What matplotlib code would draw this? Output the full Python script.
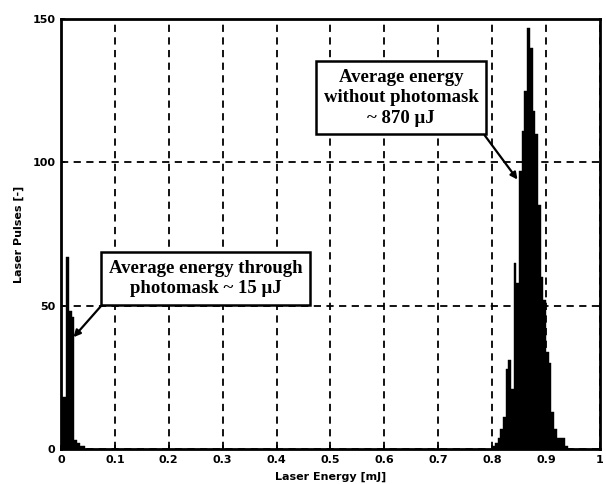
import matplotlib
matplotlib.use("Agg")
import matplotlib.pyplot as plt

# Histogram data (bin left edges in mJ, counts of laser pulses)
bin_width = 0.005
masked_bins = [0.000, 0.005, 0.010, 0.015, 0.020, 0.025, 0.030, 0.035, 0.040]
masked_counts = [18, 18, 67, 48, 46, 3, 2, 1, 1]

open_bins = [0.800, 0.805, 0.810, 0.815, 0.820, 0.825, 0.830, 0.835, 0.840,
             0.845, 0.850, 0.855, 0.860, 0.865, 0.870, 0.875, 0.880, 0.885,
             0.890, 0.895, 0.900, 0.905, 0.910, 0.915, 0.920, 0.925, 0.930,
             0.935]
open_counts = [1, 2, 4, 7, 11, 28, 31, 21, 65, 58, 97, 111, 125, 147, 140,
               118, 110, 85, 60, 52, 34, 30, 13, 7, 4, 4, 4, 1]

x_ticks = [0, 0.1, 0.2, 0.3, 0.4, 0.5, 0.6, 0.7, 0.8, 0.9, 1]
x_tick_labels = ["0", "0.1", "0.2", "0.3", "0.4", "0.5", "0.6", "0.7", "0.8", "0.9", "1"]
y_ticks = [0, 50, 100, 150]

label_masked = "Average energy through\nphotomask ~ 15 \u03bcJ"
label_open = "Average energy\nwithout photomask\n~ 870 \u03bcJ"

fig = plt.figure(figsize=(6.06, 4.84), dpi=100)
ax = fig.add_axes([0.1007, 0.0723, 0.8893, 0.8884])

ax.bar(masked_bins, masked_counts, width=bin_width, align="edge",
       color="black", edgecolor="black", linewidth=0.3, zorder=3)
ax.bar(open_bins, open_counts, width=bin_width, align="edge",
       color="black", edgecolor="black", linewidth=0.3, zorder=3)

ax.set_xlim(0, 1)
ax.set_ylim(0, 150)
ax.set_xticks(x_ticks)
ax.set_xticklabels(x_tick_labels)
ax.set_yticks(y_ticks)

ax.grid(True, color="black", linestyle=(0, (4, 3)), linewidth=1.3, zorder=1)
ax.set_axisbelow(True)
for s in ax.spines.values():
    s.set_linewidth(2.0)
    s.set_zorder(5)

ax.tick_params(direction="in", length=3, width=1.2, labelsize=8, pad=4)
for lab in ax.get_xticklabels() + ax.get_yticklabels():
    lab.set_fontweight("bold")
    lab.set_family("DejaVu Sans")

ax.set_xlabel("Laser Energy [mJ]", fontsize=8, fontweight="bold", labelpad=5)
ax.set_ylabel("Laser Pulses [-]", fontsize=8, fontweight="bold", labelpad=6)

bbox = dict(boxstyle="square,pad=0.4", facecolor="white", edgecolor="black", linewidth=1.8)

ax.annotate(label_masked, xy=(0.0232, 39), xytext=(0.2685, 59.5),
            textcoords="data", ha="center", va="center",
            multialignment="center",
            fontsize=13.5, family="Liberation Serif", fontweight="bold",
            bbox=bbox, zorder=6, linespacing=1.25,
            arrowprops=dict(arrowstyle="-|>", color="black", lw=1.6,
                            mutation_scale=10, shrinkA=0, shrinkB=0,
                            relpos=(0, 0)))

ax.annotate(label_open, xy=(0.847, 94), xytext=(0.631, 122.5),
            textcoords="data", ha="center", va="center",
            multialignment="center",
            fontsize=13.5, family="Liberation Serif", fontweight="bold",
            bbox=bbox, zorder=6, linespacing=1.28,
            arrowprops=dict(arrowstyle="-|>", color="black", lw=1.6,
                            mutation_scale=10, shrinkA=0, shrinkB=0,
                            relpos=(1, 0)))

fig.savefig("out.png", dpi=100)
